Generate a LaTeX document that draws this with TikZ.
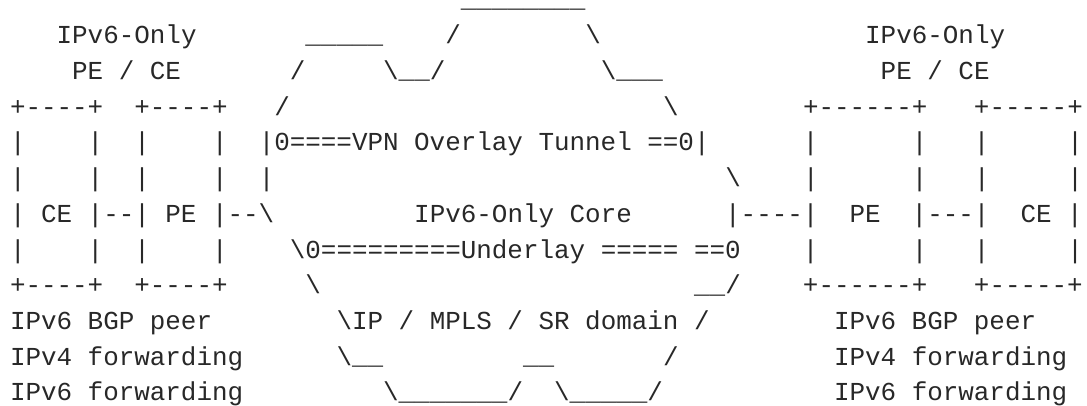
\documentclass[tikz,border=0pt]{standalone}
\usepackage{fontspec}
\setmonofont{Liberation Mono}
\newdimen\cw
\cw=11.6625pt
\newcommand\gp[1]{\hspace*{#1\cw}}
\newcommand\bk{\textbackslash}
\newcommand\us[1]{\raisebox{0.02em}{#1}}
\definecolor{ink}{RGB}{40,40,40}
\tikzset{
  asciiline/.style={anchor=base west, inner sep=0pt, outer sep=0pt, text=ink,
    font=\ttfamily\fontsize{19.43}{23}\selectfont}
}
\begin{document}
\begin{tikzpicture}[x=0.75pt,y=-0.75pt]
\useasboundingbox (0,0) rectangle (1087,406);
\fill[white] (0,0) rectangle (1087,406);
\begin{scope}[shift={(10,8)}, x=11.6625pt, y=-26.79pt]
\node[asciiline] (l0) at (0,0) {\gp{29}\us{\_\_\_\_\_\_\_\_}};
\node[asciiline] (l1) at (0,1) {\gp{3}IPv6-Only\gp{7}\us{\_\_\_\_\_}\gp{4}/\gp{8}\bk\gp{17}IPv6-Only};
\node[asciiline] (l2) at (0,2) {\gp{4}PE / CE\gp{7}/\gp{5}\bk\us{\_\_}/\gp{10}\bk\us{\_\_\_}\gp{14}PE / CE};
\node[asciiline] (l3) at (0,3) {+----+\gp{2}+----+\gp{3}/\gp{24}\bk\gp{8}+------+\gp{3}+-----+};
\node[asciiline] (l4) at (0,4) {|\gp{4}|\gp{2}|\gp{4}|\gp{2}|0====VPN Overlay Tunnel ==0|\gp{6}|\gp{6}|\gp{3}|\gp{5}|};
\node[asciiline] (l5) at (0,5) {|\gp{4}|\gp{2}|\gp{4}|\gp{2}|\gp{29}\bk\gp{4}|\gp{6}|\gp{3}|\gp{5}|};
\node[asciiline] (l6) at (0,6) {| CE |--| PE |--\bk\gp{9}IPv6-Only Core\gp{6}|----|\gp{2}PE\gp{2}|---|\gp{2}CE |};
\node[asciiline] (l7) at (0,7) {|\gp{4}|\gp{2}|\gp{4}|\gp{4}\bk0=========Underlay ===== ==0\gp{4}|\gp{6}|\gp{3}|\gp{5}|};
\node[asciiline] (l8) at (0,8) {+----+\gp{2}+----+\gp{5}\bk\gp{24}\us{\_\_}/\gp{4}+------+\gp{3}+-----+};
\node[asciiline] (l9) at (0,9) {IPv6 BGP peer\gp{8}\bk IP / MPLS / SR domain /\gp{8}IPv6 BGP peer};
\node[asciiline] (l10) at (0,10) {IPv4 forwarding\gp{6}\bk\us{\_\_}\gp{9}\us{\_\_}\gp{7}/\gp{10}IPv4 forwarding};
\node[asciiline] (l11) at (0,11) {IPv6 forwarding\gp{9}\bk\us{\_\_\_\_\_\_\_}/\gp{2}\bk\us{\_\_\_\_\_}/\gp{11}IPv6 forwarding};
\end{scope}
\end{tikzpicture}
\end{document}
